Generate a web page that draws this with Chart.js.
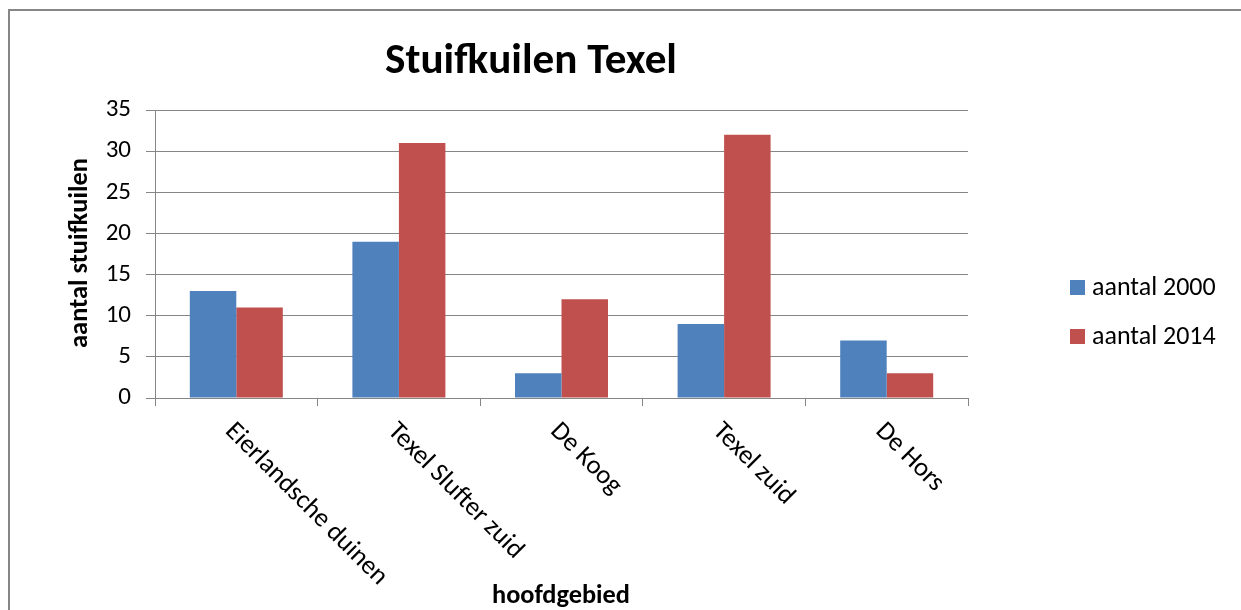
<!DOCTYPE html>
<html><head><meta charset="utf-8">
<script src="https://cdn.jsdelivr.net/npm/chart.js@4.4.1/dist/chart.umd.min.js"></script>
<style>html,body{margin:0;padding:0;background:#fff;}#wrap{width:1241px;height:610px;}</style>
</head><body><div id="wrap"><canvas id="c" width="1241" height="610"></canvas></div>
<script>
const chartTitle = 'Stuifkuilen Texel';
const xAxisTitle = 'hoofdgebied';
const yAxisTitle = 'aantal stuifkuilen';
const categories = ['Eierlandsche duinen', 'Texel Slufter zuid', 'De Koog', 'Texel zuid', 'De Hors'];
const seriesNames = ['aantal 2000', 'aantal 2014'];
const aantal2000 = [13, 19, 3, 9, 7];
const aantal2014 = [11, 31, 12, 32, 3];
const yMin = 0, yMax = 35, yStep = 5;

const FAMILY = 'Carlito, Lato, sans-serif';
const SMALL = 25;
const LABEL = 26.5;
const LEGEND = 26;
const GRID = '#868686';
const COLORS = ['#4F81BD', '#C0504D'];

function fitSize(ctx, text, weight, target, base) {
  ctx.font = weight + ' ' + base + 'px ' + FAMILY;
  const w = ctx.measureText(text).width;
  return base * target / w;
}

const decor = {
  id: 'decor',
  beforeDraw(chart) {
    const ctx = chart.ctx;
    ctx.save();
    ctx.fillStyle = '#fff';
    ctx.fillRect(0, 0, chart.width, chart.height);
    ctx.strokeStyle = GRID;
    ctx.lineWidth = 2;
    ctx.beginPath();
    ctx.moveTo(9, chart.height + 2);
    ctx.lineTo(9, 10);
    ctx.lineTo(chart.width + 2, 10);
    ctx.stroke();
    ctx.restore();
  },
  afterDraw(chart) {
    const ctx = chart.ctx;
    const xs = chart.scales.x;
    ctx.save();
    ctx.fillStyle = '#000';
    // title
    let s = fitSize(ctx, chartTitle, 'bold', 292, 36);
    ctx.font = 'bold ' + s + 'px ' + FAMILY;
    ctx.textAlign = 'center';
    ctx.textBaseline = 'middle';
    ctx.fillText(chartTitle, 531, 62);
    // x title
    s = fitSize(ctx, xAxisTitle, 'bold', 138, 20);
    ctx.font = 'bold ' + s + 'px ' + FAMILY;
    ctx.fillText(xAxisTitle, 561, 596);
    // y title
    s = fitSize(ctx, yAxisTitle, 'bold', 190, 20);
    ctx.save();
    ctx.translate(80, 253);
    ctx.rotate(-Math.PI / 2);
    ctx.font = 'bold ' + s + 'px ' + FAMILY;
    ctx.fillText(yAxisTitle, 0, 0);
    ctx.restore();
    // category labels
    ctx.font = LABEL + 'px ' + FAMILY;
    ctx.textAlign = 'left';
    ctx.textBaseline = 'alphabetic';
    categories.forEach((c, i) => {
      const x = xs.getPixelForValue(i);
      ctx.save();
      ctx.translate(x - 12, 432);
      ctx.rotate(Math.PI / 4);
      ctx.fillText(c, 0, 0);
      ctx.restore();
    });
    // legend
    ctx.font = LEGEND + 'px ' + FAMILY;
    ctx.textBaseline = 'middle';
    chart.data.datasets.forEach((ds, i) => {
      ctx.fillStyle = ds.backgroundColor;
      ctx.fillRect(1070, 280 + 49 * i, 15, 15);
      ctx.fillStyle = '#000';
      ctx.fillText(ds.label, 1092, 288 + 49 * i);
    });
    ctx.restore();
  }
};

new Chart(document.getElementById('c'), {
  type: 'bar',
  data: {
    labels: categories,
    datasets: [
      { label: seriesNames[0], data: aantal2000, backgroundColor: COLORS[0], borderWidth: 0, barPercentage: 1, categoryPercentage: 0.572 },
      { label: seriesNames[1], data: aantal2014, backgroundColor: COLORS[1], borderWidth: 0, barPercentage: 1, categoryPercentage: 0.572 }
    ]
  },
  options: {
    responsive: false,
    animation: false,
    devicePixelRatio: 1,
    layout: { padding: { left: 0, top: 110, right: 273, bottom: 0 } },
    plugins: { legend: { display: false }, title: { display: false }, tooltip: { enabled: false } },
    scales: {
      x: {
        offset: true,
        grid: { display: true, drawOnChartArea: false, drawTicks: true, tickLength: 8, color: GRID, offset: true, lineWidth: 1 },
        border: { color: GRID, width: 1 },
        ticks: { display: false },
        afterFit: sc => { sc.height = 212; }
      },
      y: {
        min: yMin, max: yMax,
        ticks: { stepSize: yStep, color: '#000', padding: 15, font: { family: FAMILY, size: SMALL } },
        grid: { color: GRID, tickLength: 9, lineWidth: 1 },
        border: { color: GRID, width: 1 },
        afterFit: sc => { sc.width = 155; }
      }
    }
  },
  plugins: [decor]
});
</script>
</body></html>
